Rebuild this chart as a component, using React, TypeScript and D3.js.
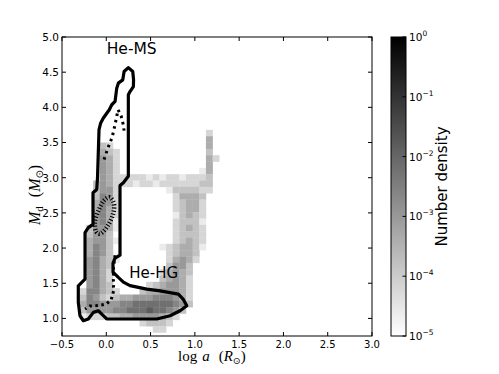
import * as d3 from "d3";

const width = 499;
const height = 374;
const plot = { left: 62, right: 372, top: 37, bottom: 336 };
const cbar = { left: 391, right: 406 };

const xTicks = [-0.5, 0, 0.5, 1, 1.5, 2, 2.5, 3];
const yTicks = [1, 1.5, 2, 2.5, 3, 3.5, 4, 4.5, 5];
const cbExponents = [0, -1, -2, -3, -4, -5];

// histogram bins: log a from -0.3 by 0.075, M_d from 0.8 by 0.09
const binX0 = -0.3;
const binDX = 0.075;
const binY0 = 0.8;
const binDY = 0.09;

// [row, first column, levels]; level d -> density 10^(-5 + 0.4 d)
const cellRuns: [number, number, string][] = [
  [31, 19, "2"],
  [30, 19, "4"],
  [29, 3, "32"], [29, 19, "4"],
  [28, 3, "432"], [28, 19, "3"],
  [27, 3, "542"], [27, 19, "42"],
  [26, 3, "542"], [26, 19, "4"],
  [25, 3, "542"], [25, 18, "14"],
  [24, 3, "54222221212212223"],
  [23, 2, "354222122122222233"],
  [22, 2, "3552"], [22, 13, "1333322"],
  [21, 2, "3652"], [21, 14, "24443"],
  [20, 2, "4652"], [20, 14, "23442"],
  [19, 2, "4642"], [19, 14, "23442"],
  [18, 2, "5642"], [18, 14, "13432"],
  [17, 2, "5641"], [17, 14, "23331"],
  [16, 1, "35541"], [16, 14, "23432"],
  [15, 1, "3553"], [15, 14, "23332"],
  [14, 1, "45531"], [14, 14, "23432"],
  [13, 1, "4653"], [13, 12, "1234431"],
  [12, 1, "4653"], [12, 13, "23443"],
  [11, 1, "56431"], [11, 13, "24542"],
  [10, 1, "5643"], [10, 13, "3553"],
  [9, 1, "5642"], [9, 12, "24543"],
  [8, 1, "5642"], [8, 12, "34542"],
  [7, 1, "5643"], [7, 10, "2345542"],
  [6, 0, "266432"], [6, 9, "34455542"],
  [5, 0, "36532344555666542"],
  [4, 0, "46655566777777653"],
  [3, 0, "3555566777877653"],
  [2, 0, "122233445555432"],
  [1, 9, "23332"],
  [0, 11, "22"],
];

// outer contour (solid), [log a, M_d]
const outerContour: [number, number][] = [
  [0.249, 4.565], [0.299, 4.509], [0.308, 4.391], [0.306, 4.296], [0.268, 4.225],
  [0.249, 4.178], [0.249, 3.021], [0.193, 2.928], [0.155, 2.89], [0.155, 1.898],
  [0.099, 1.856], [0.076, 1.785], [0.076, 1.657], [0.133, 1.586], [0.193, 1.516],
  [0.268, 1.466], [0.457, 1.416], [0.607, 1.392], [0.814, 1.346], [0.867, 1.275],
  [0.909, 1.18], [0.833, 1.109], [0.72, 1.038], [0.57, 0.992], [0.005, 0.992],
  [-0.051, 1.062], [-0.09, 1.109], [-0.146, 1.086], [-0.203, 0.992], [-0.259, 0.967],
  [-0.297, 1.038], [-0.316, 1.228], [-0.316, 1.463], [-0.277, 1.511], [-0.24, 1.558],
  [-0.24, 2.22], [-0.203, 2.29], [-0.15, 2.337], [-0.15, 2.786], [-0.108, 2.833],
  [-0.099, 3.003], [-0.082, 3.683], [-0.063, 3.778], [-0.033, 3.848], [0.034, 3.966],
  [0.062, 4.037], [0.099, 4.084], [0.118, 4.273], [0.136, 4.344], [0.186, 4.391],
  [0.201, 4.509],
];

const upperDotted: [number, number][] = [
  [-0.025, 3.258], [0.02, 3.428], [0.065, 3.569], [0.099, 3.754], [0.133, 3.966],
  [0.167, 3.881], [0.189, 3.768], [0.201, 3.669],
];

const ovalContour: [number, number][] = [
  [0.042, 2.72], [0.088, 2.62], [0.076, 2.479], [0.02, 2.323], [-0.059, 2.21],
  [-0.116, 2.238], [-0.127, 2.38], [-0.082, 2.55], [-0.025, 2.677],
];

const lowerDotted: [number, number][] = [
  [0.099, 1.898], [0.082, 1.728], [0.08, 1.558], [0.082, 1.388], [0.054, 1.261],
  [-0.003, 1.204], [-0.093, 1.183], [-0.184, 1.176], [-0.24, 1.133],
];

const x = d3.scaleLinear().domain([-0.5, 3.0]).range([plot.left, plot.right]);
const y = d3.scaleLinear().domain([0.75, 5.0]).range([plot.bottom, plot.top]);
const cb = d3.scaleLog().domain([1e-5, 1]).range([plot.bottom, plot.top]);
const color = d3.scaleSequentialLog(d3.interpolateRgb("#ffffff", "#000000")).domain([1e-5, 1]);

const fmt = (v: number) => (v < 0 ? "\u2212" : "") + Math.abs(v).toFixed(1);

export default function App() {
  const cells = cellRuns.flatMap(([j, i0, levels]) =>
    levels.split("").map((ch, k) => ({ i: i0 + k, j, d: +ch }))
  );

  const line = d3.line<[number, number]>().x((d) => x(d[0])).y((d) => y(d[1]));
  const closed = d3.line<[number, number]>().x((d) => x(d[0])).y((d) => y(d[1])).curve(d3.curveLinearClosed);
  const oval = d3.line<[number, number]>().x((d) => x(d[0])).y((d) => y(d[1])).curve(d3.curveCardinalClosed);

  const sans = "DejaVu Sans";
  const serif = "Liberation Serif";

  return (
    <svg width={width} height={height} style={{ position: "absolute", left: 0, top: 0 }} fontFamily={sans}>
      <defs>
        <linearGradient id="cbgrad" x1="0" y1="1" x2="0" y2="0">
          <stop offset="0" stopColor="#ffffff" />
          <stop offset="1" stopColor="#000000" />
        </linearGradient>
        <clipPath id="plotclip">
          <rect x={plot.left} y={plot.top} width={plot.right - plot.left} height={plot.bottom - plot.top} />
        </clipPath>
      </defs>
      <rect width={width} height={height} fill="#fff" />

      <g clipPath="url(#plotclip)">
        {cells.map((c, k) => {
          const x0 = x(binX0 + c.i * binDX);
          const x1 = x(binX0 + (c.i + 1) * binDX);
          const y0 = y(binY0 + (c.j + 1) * binDY);
          const y1 = y(binY0 + c.j * binDY);
          return (
            <rect key={k} x={x0} y={y0} width={x1 - x0 + 0.3} height={y1 - y0 + 0.3}
              fill={color(Math.pow(10, -5 + 0.4 * c.d))} />
          );
        })}
        <path d={closed(outerContour) ?? ""} fill="none" stroke="#000" strokeWidth={3.2} strokeLinejoin="round" />
        <path d={line(upperDotted) ?? ""} fill="none" stroke="#000" strokeWidth={3} strokeDasharray="2.5,4" />
        <path d={oval(ovalContour) ?? ""} fill="none" stroke="#000" strokeWidth={4.5} strokeDasharray="1.1,2" />
        <path d={line(lowerDotted) ?? ""} fill="none" stroke="#000" strokeWidth={3} strokeDasharray="2.5,3.5" />
      </g>

      <text x={106.7} y={54} fontSize={15.5}>He-MS</text>
      <text x={129.3} y={277.5} fontSize={15}>He-HG</text>

      <rect x={plot.left} y={plot.top} width={plot.right - plot.left} height={plot.bottom - plot.top}
        fill="none" stroke="#000" strokeWidth={1} />
      {xTicks.map((t) => (
        <g key={"x" + t}>
          <line x1={x(t)} x2={x(t)} y1={plot.bottom} y2={plot.bottom - 4} stroke="#000" />
          <line x1={x(t)} x2={x(t)} y1={plot.top} y2={plot.top + 4} stroke="#000" />
          <text x={x(t)} y={plot.bottom + 11.5} fontSize={10} textAnchor="middle">{fmt(t)}</text>
        </g>
      ))}
      {yTicks.map((t) => (
        <g key={"y" + t}>
          <line x1={plot.left} x2={plot.left + 4} y1={y(t)} y2={y(t)} stroke="#000" />
          <line x1={plot.right} x2={plot.right - 4} y1={y(t)} y2={y(t)} stroke="#000" />
          <text x={plot.left - 3} y={y(t) + 3.8} fontSize={10.5} textAnchor="end">{t.toFixed(1)}</text>
        </g>
      ))}

      <text x={178} y={361} fontFamily={serif} fontSize={15}>
        log<tspan dx={5} fontStyle="italic">a</tspan>
        <tspan dx={9}>(</tspan>
        <tspan fontStyle="italic">R</tspan>
        <tspan dy={3} fontSize={9.5} fontFamily={sans}>⊙</tspan>
        <tspan dy={-3}>)</tspan>
      </text>
      <text transform="translate(40,225) rotate(-90)" fontFamily={serif} fontSize={16}>
        <tspan fontStyle="italic">M</tspan>
        <tspan dy={3} fontSize={11}>d</tspan>
        <tspan dy={-3} dx={9}>(</tspan>
        <tspan fontStyle="italic">M</tspan>
        <tspan dy={3} fontSize={10} fontFamily={sans}>⊙</tspan>
        <tspan dy={-3}>)</tspan>
      </text>

      <rect x={cbar.left} y={plot.top} width={cbar.right - cbar.left} height={plot.bottom - plot.top}
        fill="url(#cbgrad)" stroke="#000" strokeWidth={1} />
      {cbExponents.map((e) => {
        const yy = cb(Math.pow(10, e));
        return (
          <g key={"c" + e}>
            <line x1={cbar.right - 3.5} x2={cbar.right} y1={yy} y2={yy} stroke="#000" />
            <text x={cbar.right + 3} y={yy + 4} fontSize={10.5}>
              10<tspan dy={-5} fontSize={7.5}>{e === 0 ? "0" : "\u2212" + Math.abs(e)}</tspan>
            </text>
          </g>
        );
      })}
      <text transform={`translate(447,${(plot.top + plot.bottom) / 2}) rotate(-90)`} fontSize={15} textAnchor="middle">
        Number density
      </text>
    </svg>
  );
}
